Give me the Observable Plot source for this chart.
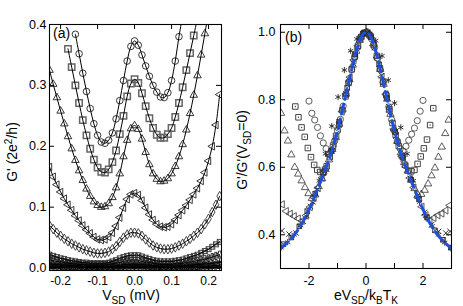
<!DOCTYPE html>
<html><head><meta charset="utf-8">
<script src="https://cdn.jsdelivr.net/npm/d3@7"></script>
<script src="https://cdn.jsdelivr.net/npm/@observablehq/plot@0.6"></script>
<style>
html,body{margin:0;padding:0;background:#fff;}
#wrap{position:relative;width:463px;height:306px;overflow:hidden;background:#fff;}
#wrap svg{position:absolute;top:0;}
</style></head><body><div id="wrap"></div>
<script>
// ---------- Panel (a) data: G' (2e^2/h) vs V_SD (mV) ----------
const vA = [-0.23,-0.22,-0.21,-0.2,-0.19,-0.18,-0.17,-0.16,-0.15,-0.14,-0.13,-0.12,-0.11,-0.1,-0.09,-0.08,-0.07,-0.06,-0.05,-0.04,-0.03,-0.02,-0.01,0,0.01,0.02,0.03,0.04,0.05,0.06,0.07,0.08,0.09,0.1,0.11,0.12,0.13,0.14,0.15,0.16,0.17,0.18,0.19,0.2,0.21,0.22,0.23];
const gCircles = [null,null,null,null,null,null,null,0.384,0.352,0.320,0.290,0.262,0.237,0.218,0.207,0.205,0.210,0.222,0.245,0.275,0.308,0.340,0.364,0.373,0.366,0.350,0.332,0.315,0.300,0.289,0.281,0.280,0.288,0.308,0.340,0.380,0.415,null,null,null,null,null,null,null,null,null,null];
const gSquares = [null,null,null,null,null,0.360,0.330,0.300,0.271,0.243,0.218,0.196,0.178,0.165,0.158,0.157,0.162,0.174,0.193,0.220,0.250,0.282,0.303,0.310,0.304,0.287,0.266,0.246,0.230,0.219,0.214,0.214,0.220,0.230,0.248,0.271,0.297,0.325,0.353,0.382,0.410,null,null,null,null,null,null];
const gTriUp = [0.325,0.302,0.280,0.258,0.237,0.216,0.196,0.177,0.160,0.144,0.130,0.118,0.109,0.103,0.100,0.101,0.106,0.116,0.132,0.155,0.183,0.210,0.229,0.234,0.228,0.212,0.190,0.170,0.155,0.146,0.142,0.143,0.147,0.155,0.167,0.183,0.203,0.227,0.254,0.284,0.316,0.350,0.385,0.420,null,null,null];
const gTriLeft = [0.166,0.150,0.137,0.125,0.114,0.104,0.095,0.086,0.078,0.070,0.063,0.057,0.051,0.047,0.046,0.047,0.051,0.058,0.069,0.083,0.099,0.113,0.121,0.123,0.120,0.111,0.099,0.088,0.079,0.072,0.068,0.067,0.068,0.072,0.079,0.087,0.095,0.103,0.112,0.121,0.131,0.143,0.157,0.176,0.200,0.235,0.285];
const gDiamonds = [0.070,0.064,0.058,0.053,0.048,0.044,0.040,0.037,0.034,0.031,0.029,0.027,0.025,0.024,0.024,0.025,0.027,0.031,0.036,0.043,0.050,0.055,0.058,0.058,0.057,0.053,0.047,0.042,0.037,0.034,0.032,0.031,0.031,0.032,0.034,0.037,0.040,0.044,0.048,0.053,0.058,0.064,0.072,0.081,0.092,0.104,0.118];
const gXSquares = [0.022,0.020,0.018,0.016,0.015,0.013,0.012,0.011,0.010,0.009,0.009,0.008,0.008,0.008,0.008,0.008,0.009,0.011,0.013,0.016,0.018,0.020,0.021,0.021,0.021,0.019,0.017,0.015,0.013,0.012,0.011,0.011,0.011,0.011,0.012,0.013,0.014,0.016,0.018,0.020,0.022,0.025,0.028,0.031,0.035,0.039,0.043];
const gPlus = [0.013,0.012,0.011,0.010,0.009,0.008,0.007,0.007,0.006,0.006,0.005,0.005,0.005,0.005,0.005,0.005,0.006,0.007,0.008,0.009,0.011,0.012,0.012,0.012,0.012,0.011,0.010,0.009,0.008,0.007,0.006,0.006,0.006,0.006,0.007,0.007,0.008,0.009,0.010,0.011,0.012,0.013,0.015,0.016,0.018,0.020,0.022];
const gStars = [0.007,0.006,0.006,0.005,0.005,0.005,0.004,0.004,0.004,0.003,0.003,0.003,0.003,0.003,0.003,0.003,0.003,0.003,0.004,0.004,0.005,0.006,0.006,0.006,0.006,0.006,0.005,0.005,0.004,0.004,0.003,0.003,0.003,0.003,0.003,0.004,0.004,0.004,0.005,0.005,0.006,0.006,0.007,0.007,0.008,0.009,0.010];
const gTimes = [0.003,0.003,0.003,0.002,0.002,0.002,0.002,0.002,0.002,0.001,0.001,0.001,0.001,0.001,0.001,0.001,0.001,0.001,0.002,0.002,0.002,0.003,0.003,0.003,0.003,0.003,0.002,0.002,0.002,0.002,0.001,0.001,0.001,0.001,0.001,0.002,0.002,0.002,0.002,0.002,0.003,0.003,0.003,0.003,0.004,0.004,0.005];
const gStars2 = [0.001,0.001,0.001,0.001,0,0,0,0,0,0,0,0,0,0,0,0,0,0,0,0.001,0.001,0.001,0.001,0.001,0.001,0.001,0.001,0.001,0,0,0,0,0,0,0,0,0,0,0,0,0,0.001,0.001,0.001,0.001,0.002,0.002];
const xTicksA = [-0.2,-0.1,0,0.1,0.2];
const yTicksA = [0,0.1,0.2,0.3,0.4];

// ---------- Panel (b) data: G'/G'(V_SD=0) vs eV_SD/k_B T_K ----------
const xFit = [-3,-2.9,-2.8,-2.7,-2.6,-2.5,-2.4,-2.3,-2.2,-2.1,-2,-1.9,-1.8,-1.7,-1.6,-1.5,-1.4,-1.3,-1.2,-1.1,-1,-0.9,-0.8,-0.7,-0.6,-0.5,-0.4,-0.3,-0.2,-0.1,0,0.1,0.2,0.3,0.4,0.5,0.6,0.7,0.8,0.9,1,1.1,1.2,1.3,1.4,1.5,1.6,1.7,1.8,1.9,2,2.1,2.2,2.3,2.4,2.5,2.6,2.7,2.8,2.9,3];
const gFit = [0.359,0.366,0.374,0.382,0.391,0.401,0.413,0.426,0.441,0.457,0.475,0.494,0.514,0.535,0.556,0.578,0.600,0.623,0.648,0.677,0.708,0.742,0.780,0.817,0.853,0.890,0.925,0.955,0.980,0.995,1.000,0.995,0.980,0.955,0.925,0.890,0.853,0.817,0.780,0.742,0.708,0.677,0.648,0.623,0.600,0.578,0.556,0.535,0.514,0.494,0.475,0.457,0.441,0.426,0.413,0.401,0.391,0.382,0.374,0.366,0.359];
const xCirclesB = [-2,-1.9,-1.8,-1.7,-1.6,-1.5,-1.4,-1.3,-1.2,-1.1,-1,-0.9,-0.8,-0.7,-0.6,-0.5,-0.4,-0.3,-0.2,-0.1,0,0.1,0.2,0.3,0.4,0.5,0.6,0.7,0.8,0.9,1,1.1,1.2,1.3,1.4,1.5,1.6,1.7,1.8,1.9,2];
const gCirclesB = [0.796,0.760,0.740,0.718,0.693,0.672,0.655,0.640,0.650,0.678,0.708,0.742,0.781,0.818,0.853,0.890,0.926,0.955,0.981,0.996,1.0,0.995,0.980,0.955,0.924,0.889,0.852,0.816,0.779,0.741,0.707,0.678,0.655,0.648,0.662,0.680,0.698,0.716,0.738,0.766,0.798];
const xSquaresB = [-2.48,-2.37,-2.26,-2.15,-2.04,-1.93,-1.82,-1.71,-1.6,-1.49,-1.38,-1.27,-1.16,-1.05,-0.94,-0.83,-0.72,-0.61,-0.5,-0.39,-0.28,-0.17,-0.06,0.05,0.16,0.27,0.38,0.49,0.6,0.71,0.82,0.93,1.04,1.15,1.26,1.37,1.48,1.59,1.7,1.81,1.92,2.03,2.14,2.25,2.36];
const gSquaresB = [0.780,0.748,0.718,0.690,0.657,0.630,0.607,0.592,0.586,0.585,0.603,0.630,0.660,0.693,0.728,0.769,0.810,0.850,0.890,0.928,0.960,0.986,0.998,0.999,0.988,0.962,0.930,0.893,0.853,0.813,0.772,0.731,0.696,0.663,0.633,0.607,0.590,0.588,0.592,0.610,0.632,0.656,0.682,0.725,0.775];
const xTriUpB = [-2.98,-2.86,-2.74,-2.62,-2.5,-2.38,-2.26,-2.14,-2.02,-1.9,-1.78,-1.66,-1.54,-1.42,-1.3,-1.18,-1.06,-0.94,-0.82,-0.7,-0.58,-0.46,-0.34,-0.22,-0.1,0.02,0.14,0.26,0.38,0.5,0.62,0.74,0.86,0.98,1.1,1.22,1.34,1.46,1.58,1.7,1.82,1.94,2.06,2.18,2.3,2.42,2.54,2.66,2.78,2.9];
const gTriUpB = [0.760,0.708,0.678,0.637,0.600,0.580,0.560,0.540,0.522,0.508,0.518,0.543,0.566,0.594,0.622,0.653,0.688,0.728,0.772,0.817,0.860,0.903,0.944,0.976,0.995,1.000,0.990,0.966,0.930,0.890,0.846,0.802,0.757,0.714,0.677,0.643,0.614,0.589,0.562,0.537,0.518,0.520,0.532,0.551,0.575,0.598,0.630,0.660,0.700,0.740];
const xTriLeftB = [-2.94,-2.8,-2.66,-2.52,-2.38,-2.24,-2.1,-1.96,-1.82,-1.68,-1.54,-1.4,-1.26,-1.12,-0.98,-0.84,-0.7,-0.56,-0.42,-0.28,-0.14,0,0.14,0.28,0.42,0.56,0.7,0.84,0.98,1.12,1.26,1.4,1.54,1.68,1.82,1.96,2.1,2.24,2.38,2.52,2.66,2.8,2.94];
const gTriLeftB = [0.490,0.470,0.462,0.455,0.448,0.441,0.457,0.482,0.510,0.539,0.569,0.600,0.633,0.671,0.714,0.765,0.817,0.867,0.918,0.960,0.990,1.000,0.990,0.961,0.919,0.868,0.816,0.764,0.713,0.672,0.632,0.601,0.568,0.540,0.511,0.483,0.458,0.442,0.450,0.458,0.463,0.472,0.487];
const xStarsB = [-2.98,-2.75,-2.52,-2.3,-2.08,-1.86,-1.64,-1.42,-1.2,-0.98,-0.76,-0.54,-0.32,-0.1,0.12,0.34,0.56,0.78,1,1.22,1.44,1.66,1.88,2.1,2.32,2.54,2.76,2.98];
const gStarsB = [0.362,0.378,0.400,0.428,0.455,0.495,0.560,0.640,0.722,0.808,0.888,0.945,0.980,0.998,0.996,0.975,0.930,0.858,0.790,0.718,0.640,0.560,0.497,0.455,0.426,0.400,0.377,0.360];
const xXSquaresB = [-2.9,-2.62,-2.34,-2.06,-1.78,-1.5,-1.22,-0.94,-0.66,-0.38,-0.1,0.18,0.46,0.74,1.02,1.3,1.58,1.86,2.14,2.42,2.7,2.98];
const gXSquaresB = [0.372,0.392,0.425,0.470,0.522,0.583,0.648,0.735,0.835,0.935,0.996,0.985,0.905,0.805,0.705,0.628,0.563,0.505,0.452,0.413,0.385,0.362];
const xTimesB = [-2.95,-2.7,-2.45,-2.2,-1.95,-1.7,-1.45,-1.2,-0.95,-0.7,-0.45,-0.2,0.05,0.3,0.55,0.8,1.05,1.3,1.55,1.8,2.05,2.3,2.55,2.8,2.95];
const gTimesB = [0.412,0.402,0.405,0.440,0.484,0.535,0.590,0.648,0.725,0.817,0.908,0.980,0.999,0.955,0.871,0.780,0.692,0.623,0.567,0.514,0.466,0.430,0.410,0.405,0.410];
const xTicksB = [-3,-2,-1,0,1,2,3];
const xLabelsB = [-2,0,2];
const yTicksB = [0.4,0.6,0.8,1.0];

// ---------- helpers ----------
const FONT = "'Liberation Sans', Arial, Helvetica, sans-serif";
const rowsOf = (xs, gs) => xs.map((x, i) => ({x, g: gs[i]})).filter(d => d.g != null);
const dotMark = (rows, o) => Plot.dot(rows, {x: "x", y: "g", fill: "none", clip: true, ...o});

// ---------- Panel (a) ----------
const WA = 232, HA = 306, mlA = 49, mrA = 11, mtA = 24, mbA = 36;
const iwA = WA - mlA - mrA, ihA = HA - mtA - mbA;
const curvesA = [
  {g: gCircles, sym: "circle", r: 3.3, stroke: "#222", sw: 0.9},
  {g: gSquares, sym: "square", r: 3.6, stroke: "#666", sw: 1.5},
  {g: gTriUp, sym: "triangle", r: 2.8, stroke: "#222", sw: 0.9},
  {g: gTriLeft, sym: "triangle", r: 2.8, stroke: "#222", sw: 0.9, rotate: -90},
  {g: gDiamonds, sym: "diamond", r: 2.9, stroke: "#333", sw: 0.9},
  {g: gXSquares, sym: "square", r: 2.8, stroke: "#333", sw: 0.9, extra: "times"},
  {g: gPlus, sym: "cross", r: 3.0, stroke: "#222", sw: 0.9},
  {g: gStars, sym: "asterisk", r: 3.2, stroke: "#111", sw: 1.0},
  {g: gTimes, sym: "times", r: 3.0, stroke: "#111", sw: 1.0},
  {g: gStars2, sym: "asterisk", r: 3.2, stroke: "#111", sw: 1.1}
];
const marksA = [
  Plot.axisX(xTicksA, {anchor: "bottom", tickSize: 0, tickPadding: 6, fontSize: 12, tickFormat: d => d.toFixed(1), label: null}),
  Plot.axisY(yTicksA, {anchor: "left", tickSize: 0, tickPadding: 3, fontSize: 12.5, tickFormat: d => d.toFixed(1), label: null})
];
for (const c of curvesA) {
  const rows = rowsOf(vA, c.g);
  marksA.push(dotMark(rows, {symbol: c.sym, r: c.r, stroke: c.stroke, strokeWidth: c.sw, rotate: c.rotate || 0}));
  if (c.extra) marksA.push(dotMark(rows, {symbol: c.extra, r: c.r * 0.9, stroke: c.stroke, strokeWidth: 0.8}));
}
for (const c of curvesA) {
  marksA.push(Plot.line(rowsOf(vA, c.g), {x: "x", y: "g", stroke: "#000", strokeWidth: 1, curve: "catmull-rom", clip: true}));
}
marksA.push(
  Plot.tickX(xTicksA, {x: d => d, insetTop: ihA - 5, stroke: "#000"}),
  Plot.tickX(xTicksA, {x: d => d, insetBottom: ihA - 5, stroke: "#000"}),
  Plot.tickY(yTicksA, {y: d => d, insetRight: iwA - 5, stroke: "#000"}),
  Plot.tickY(yTicksA, {y: d => d, insetLeft: iwA - 5, stroke: "#000"}),
  Plot.frame({stroke: "#000", strokeWidth: 1.1})
);
const plotA = Plot.plot({
  width: WA, height: HA, marginLeft: mlA, marginRight: mrA, marginTop: mtA, marginBottom: mbA,
  x: {domain: [-0.23, 0.235]},
  y: {domain: [-0.004, 0.4]},
  style: {fontFamily: FONT, fontSize: "12.5px", color: "#000", background: "transparent", overflow: "visible"},
  marks: marksA
});

// ---------- Panel (b) ----------
const WB = 231, HB = 306, mlB = 48, mrB = 12, mtB = 24, mbB = 38;
const iwB = WB - mlB - mrB, ihB = HB - mtB - mbB;
const seriesB = [
  {x: xTriLeftB, g: gTriLeftB, sym: "triangle", r: 2.7, stroke: "#333", sw: 0.8, rotate: -90},
  {x: xTriUpB, g: gTriUpB, sym: "triangle", r: 2.7, stroke: "#333", sw: 0.8},
  {x: xSquaresB, g: gSquaresB, sym: "square", r: 3.1, stroke: "#444", sw: 1.0, dotc: true},
  {x: xCirclesB, g: gCirclesB, sym: "circle", r: 3.1, stroke: "#333", sw: 0.8},
  {x: xTimesB, g: gTimesB, sym: "times", r: 2.6, stroke: "#222", sw: 0.9},
  {x: xXSquaresB, g: gXSquaresB, sym: "square", r: 2.6, stroke: "#222", sw: 0.9, extra: "times"},
  {x: xStarsB, g: gStarsB, sym: "asterisk", r: 2.9, stroke: "#222", sw: 0.9}
];
const marksB = [
  Plot.axisX(xLabelsB, {anchor: "bottom", tickSize: 0, tickPadding: 8, fontSize: 12.5, tickFormat: d => String(d), label: null}),
  Plot.axisY(yTicksB, {anchor: "left", tickSize: 0, tickPadding: 5, fontSize: 12.5, tickFormat: d => d.toFixed(1), label: null})
];
for (const s of seriesB) {
  const rows = rowsOf(s.x, s.g);
  marksB.push(dotMark(rows, {symbol: s.sym, r: s.r, stroke: s.stroke, strokeWidth: s.sw, rotate: s.rotate || 0}));
  if (s.extra) marksB.push(dotMark(rows, {symbol: s.extra, r: s.r * 0.9, stroke: s.stroke, strokeWidth: 0.8}));
  if (s.dotc) marksB.push(Plot.dot(rows, {x: "x", y: "g", r: 0.7, fill: s.stroke, clip: true}));
}
marksB.push(
  Plot.line(rowsOf(xFit, gFit), {x: "x", y: "g", stroke: "#1f50dc", strokeWidth: 3, strokeDasharray: "10,5", curve: "catmull-rom", clip: true}),
  Plot.tickX(xTicksB, {x: d => d, insetTop: ihB - 5, stroke: "#000"}),
  Plot.tickX(xTicksB, {x: d => d, insetBottom: ihB - 5, stroke: "#000"}),
  Plot.tickY(yTicksB, {y: d => d, insetRight: iwB - 5, stroke: "#000"}),
  Plot.tickY(yTicksB, {y: d => d, insetLeft: iwB - 5, stroke: "#000"}),
  Plot.frame({stroke: "#000", strokeWidth: 1.1})
);
const plotB = Plot.plot({
  width: WB, height: HB, marginLeft: mlB, marginRight: mrB, marginTop: mtB, marginBottom: mbB,
  x: {domain: [-3, 3]},
  y: {domain: [0.30, 1.023]},
  style: {fontFamily: FONT, fontSize: "12.5px", color: "#000", background: "transparent", overflow: "visible"},
  marks: marksB
});

const wrap = document.getElementById("wrap");
plotA.style.left = "0px";
plotB.style.left = "232px";
wrap.appendChild(plotA);
wrap.appendChild(plotB);

// ---------- rich-text labels (sub/superscripts) ----------
function richText(svg, x, y, parts, rotate, size, anchor) {
  const t = d3.select(svg).append("text")
    .attr("transform", `translate(${x},${y})` + (rotate ? " rotate(-90)" : ""))
    .attr("text-anchor", anchor || "middle")
    .attr("font-family", FONT).attr("font-size", size).attr("fill", "#000");
  let shift = 0;
  for (const p of parts) {
    const [txt, kind] = Array.isArray(p) ? p : [p, null];
    const target = kind === "sub" ? 4 : kind === "sup" ? -5 : 0;
    const ts = t.append("tspan").text(txt).attr("dy", target - shift);
    if (kind) ts.attr("font-size", size * 0.72);
    shift = target;
  }
  return t;
}
richText(plotA, 53, 38, ["(a)"], false, 14, "start");
richText(plotB, 53, 42, ["(b)"], false, 14, "start");
richText(plotA, 17, 152, ["G' (2e", ["2", "sup"], "/h)"], true, 14);
richText(plotB, 15, 150, ["G'/G'(V", ["SD", "sub"], "=0)"], true, 14);
richText(plotA, 131, 300, ["V", ["SD", "sub"], " (mV)"], false, 14);
richText(plotB, 134, 300, ["eV", ["SD", "sub"], "/k", ["B", "sub"], "T", ["K", "sub"]], false, 14);
</script>
</body></html>
